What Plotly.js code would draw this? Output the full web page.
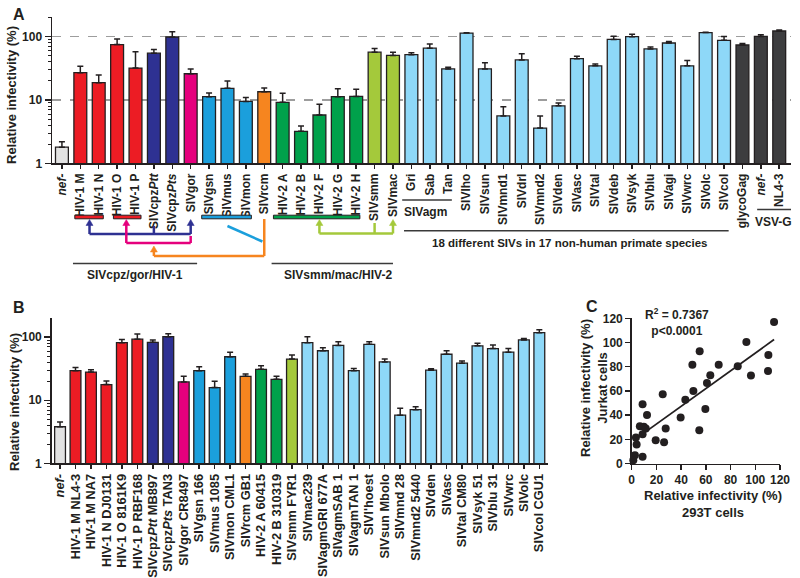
<!DOCTYPE html>
<html>
<head>
<meta charset="utf-8">
<script src="https://cdn.plot.ly/plotly-3.0.1.min.js"></script>
<style>
  html, body { margin: 0; padding: 0; background: #fff; }
  #chart { width: 800px; height: 578px; }
</style>
</head>
<body>
<div id="chart"></div>
<script>
// ---- Panel A: relative infectivity (%) in 293T cells, one bar per virus group
const labelsA = ['<i>nef-</i>', 'HIV-1 M', 'HIV-1 N', 'HIV-1 O', 'HIV-1 P', 'SIVcpz<i>Ptt</i>', 'SIVcpz<i>Pts</i>', 'SIVgor',
  'SIVgsn', 'SIVmus', 'SIVmon', 'SIVrcm', 'HIV-2 A', 'HIV-2 B', 'HIV-2 F', 'HIV-2 G', 'HIV-2 H', 'SIVsmm', 'SIVmac',
  'Gri', 'Sab', 'Tan', 'SIVlho', 'SIVsun', 'SIVmnd1', 'SIVdrl', 'SIVmnd2', 'SIVden', 'SIVasc', 'SIVtal', 'SIVdeb',
  'SIVsyk', 'SIVblu', 'SIVagi', 'SIVwrc', 'SIVolc', 'SIVcol', 'glycoGag', '<i>nef-</i>', 'NL4-3']
const valuesA = [1.8, 27, 18.8, 75, 32, 55, 99, 26, 11.3, 15.3, 9.5, 13.5, 9.2, 3.2, 5.8, 11.3, 11.4, 57, 50.6,
  52, 66, 31, 114, 31, 5.6, 43, 3.6, 8.1, 45, 34.7, 90.6, 100, 64, 79.5, 34.7, 116, 87.5, 74, 101, 123]
const errorsA = [0.4, 7, 6, 17, 26, 8, 21, 5, 1.6, 4.7, 1.5, 2, 3.6, 0.7, 2.8, 3.7, 3.4, 8, 6.4,
  4, 11, 2, 1, 7.6, 2.2, 11, 2, 0.9, 4, 2.3, 11, 9, 5, 4.5, 7.3, 2, 13.5, 4, 6, 5]
const groupsA = ['ctrl', 'hiv1', 'hiv1', 'hiv1', 'hiv1', 'cpz', 'cpz', 'gor', 'gsn', 'gsn', 'gsn', 'rcm',
  'hiv2', 'hiv2', 'hiv2', 'hiv2', 'hiv2', 'smm', 'smm',
  'other', 'other', 'other', 'other', 'other', 'other', 'other', 'other', 'other', 'other', 'other', 'other',
  'other', 'other', 'other', 'other', 'other', 'other', 'vsvg', 'vsvg', 'vsvg']

// ---- Panel B: individual strains
const labelsB = ['<i>nef-</i>', 'HIV-1 M NL4-3', 'HIV-1 M NA7', 'HIV-1 N DJ0131', 'HIV-1 O 8161K9', 'HIV-1 P RBF168',
  'SIVcpz<i>Ptt</i> MB897', 'SIVcpz<i>Pts</i> TAN3', 'SIVgor CR8497', 'SIVgsn 166', 'SIVmus 1085', 'SIVmon CML1',
  'SIVrcm GB1', 'HIV-2 A 60415', 'HIV-2 B 310319', 'SIVsmm FYR1', 'SIVmac239', 'SIVagmGRI 677A', 'SIVagmSAB 1',
  'SIVagmTAN 1', "SIVl'hoest", 'SIVsun Mbolo', 'SIVmnd 28', 'SIVmnd2 5440', 'SIVden', 'SIVasc', 'SIVtal CM80',
  'SIVsyk 51', 'SIVblu 31', 'SIVwrc', 'SIVolc', 'SIVcol CGU1']
const valuesB = [3.8, 29.5, 28, 17.7, 82, 93, 83, 102, 19.5, 29.5, 15.9, 49, 24, 31, 21.5, 45, 82, 61, 74,
  29.5, 77, 40.5, 5.8, 7.1, 30, 53.7, 38.7, 73, 66, 58, 90.6, 118]
const errorsB = [0.7, 3.5, 2.6, 2.5, 10, 19, 7, 12, 4.5, 4.5, 4.1, 9, 2, 4.4, 2.5, 7, 20, 7, 11,
  2.5, 8, 4.5, 1.7, 0.8, 1.7, 7.3, 3.3, 7, 9, 8, 4.4, 13]
const groupsB = ['ctrl', 'hiv1', 'hiv1', 'hiv1', 'hiv1', 'hiv1', 'cpz', 'cpz', 'gor', 'gsn', 'gsn', 'gsn', 'rcm',
  'hiv2', 'hiv2', 'smm', 'other', 'other', 'other', 'other', 'other', 'other', 'other', 'other', 'other', 'other',
  'other', 'other', 'other', 'other', 'other', 'other']

// ---- Panel C: 293T vs Jurkat
const x293T = [115.2, 92.8, 49.1, 55.0, 70.4, 85.8, 110.6, 110.3, 96.5, 63.6, 60.9, 49.9, 43.4, 25.1, 59.6, 39.6,
  54.7, 27.5, 26.2, 19.4, 8.8, 12.4, 6.6, 9.8, 11.4, 8.8, 3.4, 4.0, 8.8, 2.6, 1.3]
const yJurkat = [117, 100.5, 81.7, 92.8, 81.7, 80.4, 89.7, 76.5, 72.7, 72.9, 66.6, 60, 52.6, 57.3, 45.1, 38,
  27.5, 28.9, 17.6, 19.3, 49, 40, 30.8, 30.3, 28.9, 24.2, 21.5, 15.7, 5.5, 6.9, 2.7]

const FONT = 'Liberation Sans, Arial, Helvetica, sans-serif'
const INK = '#231f20'
const colors = {
  ctrl: '#e2e2e2', hiv1: '#ec1c24', cpz: '#2e3192', gor: '#e5007d', gsn: '#1b9fdc', rcm: '#f6851f',
  hiv2: '#00a14b', smm: '#a4c93b', other: '#8ed8f8', vsvg: '#3d3d3f'
}

const W = 800, H = 578
const px = v => v / W        // pixel -> paper
const py = v => 1 - v / H

function barTrace(labels, values, errors, groups, xa, ya) {
  return {
    type: 'bar', x: labels.map((_, i) => i), y: values, xaxis: xa, yaxis: ya, width: 0.7,
    marker: { color: groups.map(g => colors[g]), line: { color: INK, width: 1.3 } },
    error_y: { type: 'data', symmetric: false, array: errors, arrayminus: errors.map(() => 0), color: INK, thickness: 1.5, width: 3 },
    hoverinfo: 'skip'
  }
}

// least squares fit for panel C
const n = x293T.length
const mx = x293T.reduce((a, b) => a + b, 0) / n
const my = yJurkat.reduce((a, b) => a + b, 0) / n
let sxy = 0, sxx = 0
x293T.forEach((x, i) => { sxy += (x - mx) * (yJurkat[i] - my); sxx += (x - mx) * (x - mx) })
const slope = sxy / sxx
const icpt = my - slope * mx
const fitX = [Math.min(...x293T), Math.max(...x293T)]

const data = [
  barTrace(labelsA, valuesA, errorsA, groupsA, 'x', 'y'),
  barTrace(labelsB, valuesB, errorsB, groupsB, 'x2', 'y2'),
  { type: 'scatter', mode: 'lines', x: fitX, y: fitX.map(x => icpt + slope * x), xaxis: 'x3', yaxis: 'y3',
    line: { color: INK, width: 1.8 }, hoverinfo: 'skip', cliponaxis: false },
  { type: 'scatter', mode: 'markers', x: x293T, y: yJurkat, xaxis: 'x3', yaxis: 'y3',
    marker: { color: INK, size: 8 }, hoverinfo: 'skip', cliponaxis: false }
]

const tickFont = { family: FONT, size: 12, weight: 'bold', color: INK }
const catFontB = { family: FONT, size: 12.8, weight: 'bold', color: INK }
function axis(extra) {
  return Object.assign({
    showline: true, linecolor: INK, linewidth: 1.5, ticks: 'outside', tickcolor: INK, tickwidth: 1.5,
    zeroline: false, showgrid: false, fixedrange: true, tickfont: tickFont
  }, extra)
}
const minorLog = []
for (let d = 1; d <= 100; d *= 10) for (let k = 2; k <= 9; k++) if (k * d < 210) minorLog.push(k * d)
const logMinor = { ticks: 'outside', ticklen: 3, tickcolor: INK, tickwidth: 1, tickmode: 'array', tickvals: minorLog }

// shapes / annotations below panel A (x in category index of panel A, y in page pixels)
const shapes = []
const notes = []
const hline = (x0, x1, y, color, w) => shapes.push({ type: 'line', xref: 'x', yref: 'paper', x0, x1, y0: py(y), y1: py(y), line: { color, width: w } })
const vline = (x, y0, y1, color, w) => shapes.push({ type: 'line', xref: 'x', yref: 'paper', x0: x, x1: x, y0: py(y0), y1: py(y1), line: { color, width: w } })
const band = (x0, x1, y, color) => shapes.push({ type: 'rect', xref: 'x', yref: 'paper', x0, x1, y0: py(y + 1.8), y1: py(y - 1.8), fillcolor: color, line: { color: INK, width: 1 } })
// shaft plus small triangular head pointing up
const arrowUp = (x, yTail, yHead, color) => {
  vline(x, yTail, yHead + 4, color, 2.5)
  const hw = 3.5 / 18.4
  shapes.push({ type: 'path', xref: 'x', yref: 'paper', fillcolor: color, line: { color, width: 0.5 },
    path: `M ${x - hw},${py(yHead + 6)} L ${x + hw},${py(yHead + 6)} L ${x},${py(yHead)} Z` })
}
const label = (x, y, text, size) => notes.push({ xref: 'x', yref: 'paper', x, y: py(y), text, showarrow: false,
  font: { family: FONT, size: size || 12, weight: 'bold', color: INK }, xanchor: 'center', yanchor: 'middle' })

band(0.7, 2.25, 217, colors.hiv1)
band(2.8, 4.3, 217, colors.hiv1)
band(7.6, 10.3, 217, colors.gsn)
band(11.5, 16.2, 217, colors.hiv2)
// SIVcpzPtt -> HIV-1 M/N and SIVgor
hline(1.5, 7, 234, colors.cpz, 2.5)
vline(5, 234, 226, colors.cpz, 2.5)
arrowUp(1.5, 234, 219.5, colors.cpz)
arrowUp(7, 234, 219.5, colors.cpz)
// SIVgor -> HIV-1 O/P
vline(7, 236, 243, colors.gor, 2.5)
hline(3.5, 7, 243, colors.gor, 2.5)
arrowUp(3.5, 243, 219.5, colors.gor)
// SIVrcm + SIVgsn/mus/mon -> SIVcpz
vline(11, 219, 256, colors.rcm, 2.5)
hline(5, 11, 256, colors.rcm, 2.5)
arrowUp(5, 256, 246, colors.rcm)
shapes.push({ type: 'line', xref: 'x', yref: 'paper', x0: 9, x1: 10.9, y0: py(226), y1: py(241.5), line: { color: colors.gsn, width: 2.5 } })
// SIVsmm -> HIV-2 and SIVmac
hline(14, 18, 233.5, colors.smm, 2.5)
vline(17, 233.5, 223, colors.smm, 2.5)
arrowUp(14, 233.5, 219.5, colors.smm)
arrowUp(18, 233.5, 219.5, colors.smm)
// group underlines
hline(0.6, 7.35, 263.5, '#3a3a3a', 1.5)
label(3.95, 274.5, 'SIVcpz/gor/HIV-1')
hline(11.4, 18.0, 263.5, '#3a3a3a', 1.5)
label(15.0, 274.5, 'SIVsmm/mac/HIV-2')
hline(18.5, 21.2, 200, '#3a3a3a', 1.5)
label(19.75, 212, 'SIVagm')
hline(18.6, 36.25, 230.7, '#3a3a3a', 1.5)
label(27.6, 243, '18 different SIVs in 17 non-human primate species', 11.5)
hline(37.8, 39.7, 209.5, '#3a3a3a', 1.5)
label(38.7, 222, 'VSV-G')

const pageNote = (x, y, text, size, angle, anchor) => notes.push({ xref: 'paper', yref: 'paper', x: px(x), y: py(y), text,
  showarrow: false, textangle: angle || 0, xanchor: anchor || 'center', yanchor: 'middle',
  font: { family: FONT, size, weight: 'bold', color: INK } })
pageNote(19, 15, 'A', 16)
pageNote(19, 307, 'B', 16)
pageNote(592, 306, 'C', 16)
pageNote(12, 95, 'Relative infectivity (%)', 13, -90)
pageNote(14, 402, 'Relative infectivity (%)', 13, -90)
pageNote(594, 388, 'Relative infectivity (%)<br>Jurkat cells', 13, -90)
pageNote(713, 504, 'Relative infectivity (%)<br>293T cells', 13)
pageNote(643, 322, 'R<sup>2</sup> = 0.7367<br>p&lt;0.0001', 12, 0, 'left')

const layout = {
  width: W, height: H, margin: { l: 0, r: 0, t: 0, b: 0 },
  paper_bgcolor: '#fff', plot_bgcolor: '#fff', showlegend: false, hovermode: false, bargap: 0,
  xaxis: axis({ domain: [px(52), px(791)], anchor: 'y', range: [-0.54, labelsA.length - 1 + 0.64],
    tickmode: 'array', tickvals: labelsA.map((_, i) => i), ticktext: labelsA, tickangle: -90, ticklen: 4 }),
  yaxis: axis({ domain: [py(163.3), py(16.7)], anchor: 'x', type: 'log', range: [0, 2.316],
    tickmode: 'array', tickvals: [1, 10, 100], ticktext: ['1', '10', '100'], ticklen: 6, minor: logMinor,
    showgrid: true, gridcolor: '#9d9d9d', griddash: 'dash', gridwidth: 1.3 }),
  xaxis2: axis({ domain: [px(51.7), px(548.3)], anchor: 'y2', range: [-0.54, labelsB.length - 1 + 0.58],
    tickmode: 'array', tickvals: labelsB.map((_, i) => i), ticktext: labelsB, tickangle: -90, ticklen: 4, tickfont: catFontB }),
  yaxis2: axis({ domain: [py(463.3), py(318.3)], anchor: 'x2', type: 'log', range: [0, 2.30],
    tickmode: 'array', tickvals: [1, 10, 100], ticktext: ['1', '10', '100'], ticklen: 6, minor: logMinor }),
  xaxis3: axis({ domain: [px(631.7), px(780)], anchor: 'y3', range: [0, 120], dtick: 20, ticklen: 5 }),
  yaxis3: axis({ domain: [py(463.5), py(318.3)], anchor: 'x3', range: [0, 120], dtick: 20, ticklen: 5 }),
  shapes, annotations: notes
}

Plotly.newPlot('chart', data, layout, { staticPlot: true, displayModeBar: false })
</script>
</body>
</html>
